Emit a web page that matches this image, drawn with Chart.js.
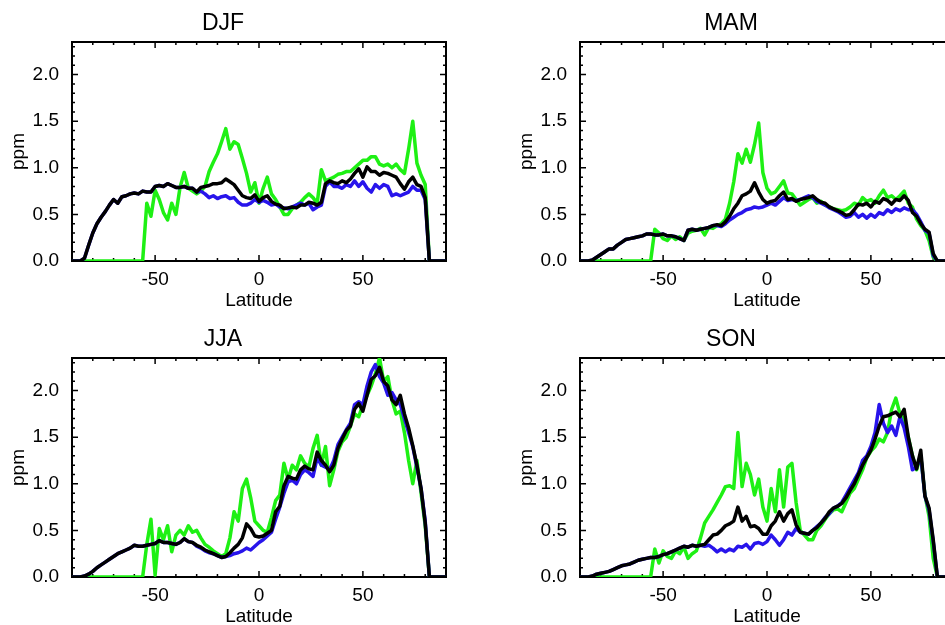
<!DOCTYPE html>
<html>
<head>
<meta charset="utf-8">
<title>Seasonal zonal means</title>
<script src="https://cdn.jsdelivr.net/npm/chart.js"></script>
<style>
  html, body { margin: 0; padding: 0; overflow: hidden; background: #fff; }
  body { width: 945px; height: 625px; position: relative; }
  .panel { position: absolute; width: 470px; height: 310px; }
</style>
</head>
<body>
<div class="panel" style="left:0px;top:0px"><canvas id="djf" width="470" height="310"></canvas></div>
<div class="panel" style="left:508px;top:0px"><canvas id="mam" width="470" height="310"></canvas></div>
<div class="panel" style="left:0px;top:316px"><canvas id="jja" width="470" height="310"></canvas></div>
<div class="panel" style="left:508px;top:316px"><canvas id="son" width="470" height="310"></canvas></div>
<script>
// latitude grid, 2 degree steps
const LAT = [
  -90, -88, -86, -84, -82, -80, -78, -76, -74, -72,
  -70, -68, -66, -64, -62, -60, -58, -56, -54, -52,
  -50, -48, -46, -44, -42, -40, -38, -36, -34, -32,
  -30, -28, -26, -24, -22, -20, -18, -16, -14, -12,
  -10, -8, -6, -4, -2, 0, 2, 4, 6, 8,
  10, 12, 14, 16, 18, 20, 22, 24, 26, 28,
  30, 32, 34, 36, 38, 40, 42, 44, 46, 48,
  50, 52, 54, 56, 58, 60, 62, 64, 66, 68,
  70, 72, 74, 76, 78, 80, 82, 84, 86, 88,
  90
];

const X_MAJOR = [-50, 0, 50];
const Y_MAJOR = [0, 0.5, 1.0, 1.5, 2.0];

const DJF_BLACK = [
  0, 0, 0, 0.03, 0.17, 0.3, 0.4, 0.47, 0.53, 0.6,
  0.66, 0.62, 0.69, 0.7, 0.72, 0.73, 0.72, 0.75, 0.74, 0.74,
  0.8, 0.81, 0.8, 0.83, 0.81, 0.79, 0.79, 0.8, 0.78, 0.78,
  0.74, 0.79, 0.8, 0.81, 0.83, 0.83, 0.84, 0.88, 0.85, 0.82,
  0.76, 0.7, 0.68, 0.67, 0.71, 0.64, 0.68, 0.7, 0.64, 0.61,
  0.6, 0.56, 0.57, 0.58, 0.57, 0.6, 0.6, 0.63, 0.62, 0.6,
  0.63, 0.83, 0.86, 0.84, 0.83, 0.86, 0.84, 0.88, 0.94, 0.99,
  0.9, 1.01, 0.96, 0.96, 0.92, 0.95, 0.94, 0.92, 0.9, 0.83,
  0.77, 0.85, 0.9, 0.82, 0.8, 0.68, 0, 0, 0, 0,
  0
];
const DJF_BLUE = [
  0, 0, 0, 0.03, 0.17, 0.3, 0.4, 0.47, 0.53, 0.6,
  0.66, 0.62, 0.69, 0.7, 0.72, 0.73, 0.72, 0.75, 0.74, 0.74,
  0.8, 0.81, 0.8, 0.83, 0.81, 0.79, 0.79, 0.8, 0.78, 0.78,
  0.74, 0.75, 0.72, 0.68, 0.7, 0.67, 0.69, 0.7, 0.67, 0.68,
  0.63, 0.6, 0.6, 0.62, 0.66, 0.63, 0.65, 0.63, 0.6, 0.61,
  0.58, 0.57, 0.56, 0.58, 0.6, 0.62, 0.6, 0.62, 0.55, 0.58,
  0.6, 0.8, 0.85, 0.8, 0.8, 0.78, 0.82, 0.8, 0.86, 0.8,
  0.85, 0.78, 0.74, 0.82, 0.78, 0.82, 0.8, 0.7, 0.72, 0.7,
  0.72, 0.74, 0.8, 0.76, 0.76, 0.66, 0, 0, 0, 0,
  0
];
const DJF_GREEN = [
  0, 0, 0, 0, 0, 0, 0, 0, 0, 0,
  0, 0, 0, 0, 0, 0, 0, 0, 0.62, 0.48,
  0.76, 0.66, 0.52, 0.44, 0.62, 0.5, 0.79, 0.95, 0.78, 0.75,
  0.72, 0.75, 0.8, 0.96, 1.06, 1.15, 1.28, 1.42, 1.2, 1.28,
  1.25, 1.1, 0.94, 0.74, 0.84, 0.62, 0.78, 0.9, 0.72, 0.66,
  0.58, 0.5, 0.5, 0.56, 0.6, 0.63, 0.68, 0.72, 0.68, 0.62,
  0.98, 0.86, 0.88, 0.9, 0.93, 0.94, 0.96, 0.96, 1.0, 1.04,
  1.08, 1.08, 1.12, 1.12, 1.04, 1.02, 1.04, 1.0, 1.04, 0.98,
  0.94, 1.2, 1.5, 1.05, 0.92, 0.82, 0, 0, 0, 0,
  0
];

const MAM_BLACK = [
  0, 0, 0, 0.01, 0.04, 0.07, 0.1, 0.13, 0.13, 0.17,
  0.2, 0.23, 0.24, 0.25, 0.26, 0.27, 0.29, 0.29, 0.28, 0.28,
  0.29, 0.27, 0.27, 0.26, 0.24, 0.22, 0.33, 0.34, 0.33, 0.34,
  0.35, 0.36, 0.38, 0.39, 0.38, 0.42, 0.48, 0.56, 0.62, 0.7,
  0.72, 0.75, 0.84, 0.74, 0.66, 0.62, 0.64, 0.65, 0.7, 0.74,
  0.66, 0.67, 0.64, 0.66, 0.67, 0.68, 0.7, 0.66, 0.63, 0.62,
  0.58, 0.56, 0.54, 0.52, 0.49, 0.5, 0.55, 0.61, 0.6, 0.62,
  0.58, 0.64, 0.62, 0.67, 0.65, 0.61, 0.66, 0.65, 0.7, 0.65,
  0.52, 0.48, 0.4, 0.34, 0.31, 0.08, 0, 0, 0, 0,
  0
];
const MAM_BLUE = [
  0, 0, 0, 0.01, 0.04, 0.07, 0.1, 0.13, 0.13, 0.17,
  0.2, 0.23, 0.24, 0.25, 0.26, 0.27, 0.29, 0.29, 0.28, 0.28,
  0.29, 0.27, 0.27, 0.26, 0.24, 0.22, 0.33, 0.34, 0.33, 0.34,
  0.35, 0.36, 0.38, 0.38, 0.37, 0.4, 0.44, 0.47, 0.5, 0.52,
  0.55, 0.56, 0.58, 0.57, 0.58, 0.6, 0.62, 0.6, 0.64, 0.68,
  0.65, 0.66, 0.65, 0.66, 0.68, 0.7, 0.68, 0.64, 0.62, 0.6,
  0.57, 0.55, 0.53, 0.5, 0.47, 0.48, 0.52, 0.47, 0.5, 0.46,
  0.5, 0.47, 0.52, 0.5, 0.55, 0.52, 0.56, 0.54, 0.57, 0.55,
  0.55, 0.5, 0.42, 0.33, 0.3, 0.06, 0, 0, 0, 0,
  0
];
const MAM_GREEN = [
  0, 0, 0, 0, 0, 0, 0, 0, 0, 0,
  0, 0, 0, 0, 0, 0, 0, 0, 0.34, 0.3,
  0.24, 0.22, 0.27, 0.23, 0.26, 0.22, 0.3, 0.32, 0.33, 0.35,
  0.28, 0.36, 0.35, 0.38, 0.4, 0.45, 0.62, 0.85, 1.15, 1.05,
  1.2, 1.06, 1.25, 1.48, 0.95, 0.78, 0.72, 0.74, 0.8, 0.86,
  0.73, 0.72, 0.66, 0.6, 0.63, 0.66, 0.68, 0.62, 0.64, 0.6,
  0.58, 0.56, 0.55, 0.54, 0.55, 0.58, 0.62, 0.6, 0.68, 0.64,
  0.66, 0.62, 0.7, 0.76, 0.68, 0.7, 0.66, 0.7, 0.75, 0.62,
  0.58, 0.45, 0.38, 0.33, 0.22, 0.04, 0, 0, 0, 0,
  0
];

const JJA_BLACK = [
  0, 0, 0, 0.01, 0.03, 0.06, 0.1, 0.13, 0.16, 0.19,
  0.22, 0.25, 0.27, 0.29, 0.31, 0.34, 0.33, 0.33, 0.34, 0.35,
  0.36, 0.39, 0.37, 0.37, 0.36, 0.35, 0.37, 0.41, 0.38, 0.37,
  0.34, 0.32, 0.29, 0.27, 0.25, 0.23, 0.21, 0.22, 0.26, 0.31,
  0.35, 0.42, 0.57, 0.52, 0.44, 0.43, 0.44, 0.47, 0.5, 0.7,
  0.76, 0.98, 1.08, 1.06, 1.05, 1.15, 1.19, 1.16, 1.15, 1.34,
  1.25, 1.2, 1.13, 1.2, 1.38, 1.48, 1.57, 1.62, 1.8, 1.86,
  1.78, 1.95, 2.12, 2.16, 2.25, 2.1, 2.05, 1.9, 1.85, 1.95,
  1.75, 1.6, 1.41, 1.2, 0.95, 0.58, 0, 0, 0, 0,
  0
];
const JJA_BLUE = [
  0, 0, 0, 0.01, 0.03, 0.06, 0.1, 0.13, 0.16, 0.19,
  0.22, 0.25, 0.27, 0.29, 0.31, 0.34, 0.33, 0.33, 0.34, 0.35,
  0.36, 0.39, 0.37, 0.37, 0.36, 0.35, 0.37, 0.41, 0.38, 0.37,
  0.33, 0.31, 0.28, 0.26, 0.25, 0.23, 0.21, 0.22, 0.23, 0.25,
  0.26, 0.28, 0.31, 0.29, 0.33, 0.37, 0.4, 0.44, 0.48, 0.62,
  0.75, 0.9, 1.02, 1.04, 1.0, 1.1, 1.15, 1.12, 1.08, 1.28,
  1.2, 1.18, 1.15, 1.25, 1.42, 1.5, 1.58, 1.65, 1.85, 1.88,
  1.85, 2.05, 2.2, 2.28, 2.15, 2.08, 1.95, 1.98, 1.9, 1.85,
  1.7, 1.55, 1.4, 1.18, 0.95, 0.6, 0, 0, 0, 0,
  0
];
const JJA_GREEN = [
  0, 0, 0, 0, 0, 0, 0, 0, 0, 0,
  0, 0, 0, 0, 0, 0, 0, 0, 0.35, 0.62,
  0.02, 0.52, 0.4, 0.55, 0.27, 0.45, 0.5, 0.45, 0.55, 0.48,
  0.5, 0.42, 0.35, 0.32, 0.28, 0.25, 0.22, 0.25, 0.42, 0.7,
  0.6, 0.95, 1.05, 0.85, 0.6, 0.55, 0.5, 0.48, 0.64, 0.82,
  0.88, 1.22, 1.05, 1.2, 1.15, 1.3, 1.22, 1.18, 1.38, 1.52,
  1.2, 1.4, 0.98, 1.15, 1.35, 1.45, 1.5, 1.62, 1.75, 1.72,
  1.85, 1.95, 2.05, 2.18, 2.35, 2.1, 2.15, 1.9, 1.75, 1.78,
  1.55, 1.25, 1.0, 1.25, 0.9, 0.55, 0, 0, 0, 0,
  0
];

const SON_BLACK = [
  0, 0, 0, 0.01, 0.03, 0.04, 0.05, 0.06, 0.08, 0.1,
  0.12, 0.13, 0.14, 0.16, 0.18, 0.19, 0.2, 0.21, 0.21, 0.22,
  0.24, 0.25, 0.27, 0.29, 0.31, 0.33, 0.32, 0.34, 0.33, 0.34,
  0.35, 0.4, 0.45, 0.46, 0.5, 0.55, 0.57, 0.6, 0.75, 0.6,
  0.65, 0.54, 0.55, 0.52, 0.46, 0.46, 0.55, 0.6, 0.7, 0.6,
  0.68, 0.72, 0.56, 0.48, 0.47, 0.46, 0.5, 0.53, 0.58, 0.63,
  0.7, 0.74, 0.76, 0.79, 0.85, 0.93, 1.0, 1.1, 1.2, 1.28,
  1.36, 1.48, 1.62, 1.72, 1.73, 1.75, 1.77, 1.72, 1.8, 1.5,
  1.3, 1.16, 1.36, 0.87, 0.74, 0.4, 0, 0, 0, 0,
  0
];
const SON_BLUE = [
  0, 0, 0, 0.01, 0.03, 0.04, 0.05, 0.06, 0.08, 0.1,
  0.12, 0.13, 0.14, 0.16, 0.18, 0.19, 0.2, 0.21, 0.21, 0.22,
  0.24, 0.25, 0.27, 0.29, 0.31, 0.33, 0.32, 0.34, 0.33, 0.34,
  0.33, 0.34, 0.31, 0.27, 0.3, 0.27, 0.3, 0.28, 0.33, 0.32,
  0.35, 0.3, 0.36, 0.37, 0.35, 0.38, 0.45, 0.4, 0.34, 0.4,
  0.48, 0.45, 0.52, 0.48, 0.47, 0.46, 0.5, 0.54, 0.58, 0.64,
  0.68, 0.74, 0.76, 0.8, 0.88, 0.96, 1.04, 1.12, 1.25, 1.3,
  1.4, 1.55, 1.85, 1.65, 1.55, 1.62, 1.52, 1.72, 1.6, 1.4,
  1.15, 1.18, 1.3, 0.87, 0.72, 0.38, 0, 0, 0, 0,
  0
];
const SON_GREEN = [
  0, 0, 0, 0, 0, 0, 0, 0, 0, 0,
  0, 0, 0, 0, 0, 0, 0, 0, 0.3, 0.15,
  0.28, 0.22, 0.2, 0.28, 0.25, 0.32, 0.2, 0.25, 0.28, 0.42,
  0.58, 0.65, 0.72, 0.8, 0.88, 0.97, 0.98, 0.95, 1.55, 0.97,
  1.22, 1.1, 0.88, 1.05, 0.75, 0.6, 0.95, 0.7, 1.15, 0.75,
  1.18, 1.22, 0.8, 0.5, 0.45, 0.4, 0.4, 0.5, 0.55, 0.62,
  0.68, 0.72, 0.73, 0.7, 0.8, 0.9, 0.95, 1.05, 1.15, 1.28,
  1.35, 1.4, 1.48, 1.45, 1.55, 1.8, 1.92, 1.75, 1.7, 1.5,
  1.3, 1.15, 1.3, 0.88, 0.65, 0.2, 0, 0, 0, 0,
  0
];

const GREEN = 'rgb(30,240,20)';
const BLUE = 'rgb(40,20,235)';
const BLACK = '#000000';

Chart.defaults.font.family = '"Liberation Sans", Arial, Helvetica, sans-serif';
Chart.defaults.color = '#000';

// IDL style box with inward ticks on all four sides
const frameTicks = {
  id: 'frameTicks',
  beforeDatasetsDraw(chart) {
    const { ctx, chartArea: a, scales: { x, y } } = chart;
    ctx.save();
    ctx.strokeStyle = '#000';
    ctx.lineWidth = 1.5;
    ctx.beginPath();
    for (let v = -80; v <= 80; v += 10) {
      const px = x.getPixelForValue(v);
      const len = X_MAJOR.includes(v) ? 6 : 3;
      ctx.moveTo(px, a.bottom); ctx.lineTo(px, a.bottom - len);
      ctx.moveTo(px, a.top); ctx.lineTo(px, a.top + len);
    }
    for (let k = 1; k <= 23; k++) {
      const py = y.getPixelForValue(k / 10);
      const len = k % 5 === 0 ? 6 : 3;
      ctx.moveTo(a.left, py); ctx.lineTo(a.left + len, py);
      ctx.moveTo(a.right, py); ctx.lineTo(a.right - len, py);
    }
    ctx.stroke();
    ctx.lineWidth = 2;
    ctx.strokeRect(a.left, a.top, a.right - a.left, a.bottom - a.top);
    ctx.restore();
  }
};

function series(vals) {
  return LAT.map((lat, i) => ({ x: lat, y: vals[i] }));
}

function makePanel(id, title, black, blue, green) {
  new Chart(document.getElementById(id), {
    type: 'line',
    data: {
      datasets: [
        { label: 'black', data: series(black), borderColor: BLACK, borderWidth: 3.5 },
        { label: 'blue', data: series(blue), borderColor: BLUE, borderWidth: 3.5 },
        { label: 'green', data: series(green), borderColor: GREEN, borderWidth: 3.5 }
      ]
    },
    options: {
      responsive: false,
      animation: false,
      layout: { padding: { left: 0, right: 24, top: 0, bottom: 0 } },
      elements: { point: { radius: 0 }, line: { tension: 0, borderJoinStyle: 'round' } },
      plugins: {
        legend: { display: false },
        tooltip: { enabled: false },
        title: {
          display: true, text: title, color: '#000',
          font: { size: 23, weight: 'normal', lineHeight: 1.2 },
          padding: { top: 10, bottom: 4.4 }
        }
      },
      scales: {
        x: {
          type: 'linear', min: -90, max: 90,
          afterBuildTicks: s => { s.ticks = X_MAJOR.map(v => ({ value: v })); },
          afterFit: s => { s.height = 49; },
          grid: { display: false },
          border: { display: false },
          ticks: { font: { size: 19 }, padding: -1, maxRotation: 0, autoSkip: false, callback: v => String(v) },
          title: { display: true, text: 'Latitude', font: { size: 19, lineHeight: 1 }, padding: { top: 0, bottom: 0 } }
        },
        y: {
          type: 'linear', min: 0, max: 2.35,
          afterBuildTicks: s => { s.ticks = Y_MAJOR.map(v => ({ value: v })); },
          afterFit: s => { s.width = 72; },
          grid: { display: false },
          border: { display: false },
          ticks: { font: { size: 19 }, padding: 5, autoSkip: false, callback: v => v.toFixed(1) },
          title: { display: true, text: 'ppm', font: { size: 19, lineHeight: 1 }, padding: { top: 9.5, bottom: 0 } }
        }
      }
    },
    plugins: [frameTicks]
  });
}

makePanel('djf', 'DJF', DJF_BLACK, DJF_BLUE, DJF_GREEN);
makePanel('mam', 'MAM', MAM_BLACK, MAM_BLUE, MAM_GREEN);
makePanel('jja', 'JJA', JJA_BLACK, JJA_BLUE, JJA_GREEN);
makePanel('son', 'SON', SON_BLACK, SON_BLUE, SON_GREEN);
</script>
</body>
</html>
